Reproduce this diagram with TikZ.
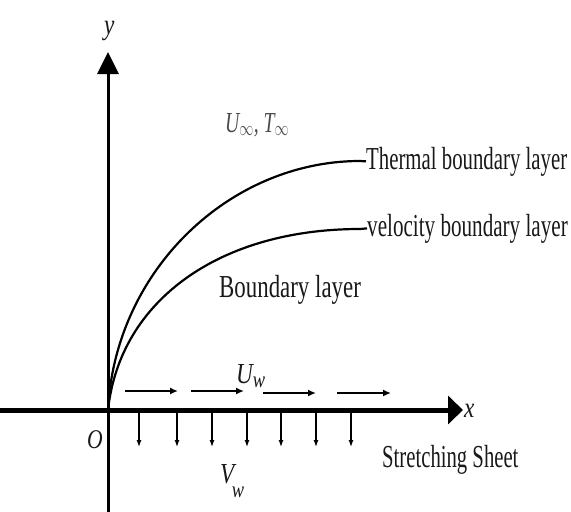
\documentclass[tikz,border=0pt]{standalone}
\usepackage{graphicx}
\usepackage{fontspec}
\setmainfont{Liberation Serif}
\usetikzlibrary{arrows.meta}
\newcommand{\hsq}[2]{\scalebox{#1}[1]{#2}}
\definecolor{txt}{gray}{0.1}
\definecolor{lt}{gray}{0.3}
\begin{document}
\begin{tikzpicture}[x=1pt,y=-1pt,
  lbl/.style={inner sep=0pt, anchor=base west, text=txt, font=\fontsize{32}{32}\selectfont},
  sym/.style={inner sep=0pt, anchor=base west, text=txt, font=\fontsize{29}{29}\selectfont\itshape},
  curve/.style={line width=2.2pt, black},
  flow/.style={line width=2pt, -{Latex[length=8pt,width=7pt]}},
  suction/.style={line width=1.2pt, -{Latex[length=7pt,width=5pt]}}]
\useasboundingbox (0,0) rectangle (571,512);

% axes
\coordinate (org) at (108,410);
\coordinate (xl) at (0,410);
\coordinate (xt) at (463,410);
\coordinate (yb) at (108,512);
\coordinate (yt) at (108,52);
\draw[line width=5pt, -{Triangle[length=15pt,width=28pt]}] (xl) -- (xt);
\draw[line width=3pt, -{Triangle[length=22pt,width=21pt]}] (yb) -- (yt);

% labels
\node[sym] (xlab) at (464,417) {\hsq{0.8}{x}};
\node[sym] (ylab) at (104,34) {\hsq{0.8}{y}};
\node[sym, font=\fontsize{27}{27}\selectfont\itshape] (olab) at (87,448) {\hsq{0.8}{O}};

\node[lbl] (th) at (366,169) {\hsq{0.65}{Thermal boundary layer}};
\node[lbl] (ve) at (367,236) {\hsq{0.66}{velocity boundary layer}};
\node[lbl] (bl) at (219,297) {\hsq{0.715}{Boundary layer}};
\node[lbl] (ss) at (382,467) {\hsq{0.647}{Stretching Sheet}};
\node[sym, text=lt] (inf) at (225,132) {\hsq{0.68}{U\textsubscript{\fontsize{22}{22}\selectfont$\infty$}, T\textsubscript{\fontsize{22}{22}\selectfont$\infty$}}};
\node[sym] (uw) at (236,383) {\hsq{0.8}{U\raisebox{-4pt}{\fontsize{23}{23}\selectfont w}}};
\node[sym] (vw) at (220,483) {\hsq{0.8}{V\kern-3pt\raisebox{-14pt}{\fontsize{23}{23}\selectfont w}}};

% boundary layer curves
\coordinate (thend) at (360,161);
\coordinate (veend) at (360,229);
\draw[curve] (org) .. controls (115,270) and (230,161) .. (thend) -- (th.west);
\draw[curve] (org) .. controls (120,300) and (220,229) .. (veend) -- (ve.west);

% stretching velocity arrows
\foreach \i/\a/\b/\y in {1/125/178/391, 2/191/244/391, 3/263/316/393, 4/337/391/393} {
  \coordinate (fa\i) at (\a,\y);
  \coordinate (fb\i) at (\b,\y);
  \draw[flow] (fa\i) -- (fb\i);
}
% suction arrows
\foreach \i/\x in {1/139, 2/177, 3/212, 4/247, 5/281, 6/316, 7/351} {
  \coordinate (sa\i) at (\x,412);
  \coordinate (sb\i) at (\x,447);
  \draw[suction] (sa\i) -- (sb\i);
}
\end{tikzpicture}
\end{document}
